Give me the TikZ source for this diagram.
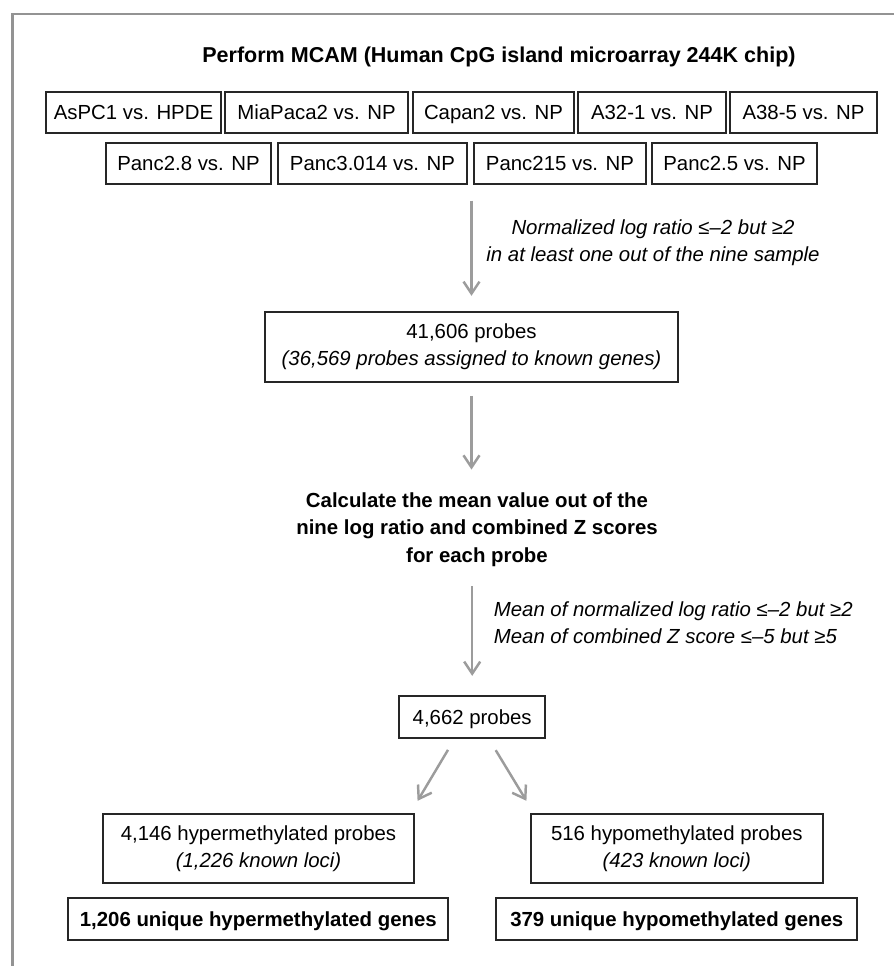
\documentclass[tikz,border=0pt]{standalone}
\usepackage{fontspec}
\setmainfont{Liberation Sans}
\usetikzlibrary{arrows.meta}

\begin{document}
\fontsize{11.6pt}{15.6pt}\selectfont
\begin{tikzpicture}[
    box/.style={draw=black!85, line width=1pt, inner sep=0pt, align=center},
    pair/.style={box, minimum height=0.82cm, text height=8.4pt, text depth=0pt},
    flow/.style={draw=gray!78, line width=1.4pt, -{Straight Barb[length=2.4mm,width=3.2mm]}}
]
    \useasboundingbox (0,0) rectangle (17.88,19.32);
    % Frame
    \draw[gray!85, line width=1.4pt] (0.254,0) -- (0.254,19.04) -- (17.88,19.04);

    % Arrays
    \node[anchor=base, font=\fontsize{12.25pt}{15.6pt}\selectfont\bfseries] (title) at (9.98,18.074) {Perform MCAM (Human CpG island microarray 244K chip)};
    \node[pair, minimum width=3.5cm] (pa) at (2.67,17.076) {AsPC1 vs. HPDE};
    \node[pair, minimum width=3.66cm] (pb) at (6.33,17.076) {MiaPaca2 vs. NP};
    \node[pair, minimum width=3.22cm] (pc) at (9.87,17.076) {Capan2 vs. NP};
    \node[pair, minimum width=2.96cm] (pd) at (13.04,17.076) {A32-1 vs. NP};
    \node[pair, minimum width=2.94cm] (pe) at (16.07,17.076) {A38-5 vs. NP};
    \node[pair, minimum width=3.3cm] (qa) at (3.77,16.056) {Panc2.8 vs. NP};
    \node[pair, minimum width=3.78cm] (qb) at (7.45,16.056) {Panc3.014 vs. NP};
    \node[pair, minimum width=3.44cm] (qc) at (11.2,16.056) {Panc215 vs. NP};
    \node[pair, minimum width=3.3cm] (qd) at (14.69,16.056) {Panc2.5 vs. NP};

    % First filter
    \node[align=center, font=\itshape] (crit) at (13.06,14.468) {Normalized log ratio ≤–2 but ≥2\\in at least one out of the nine sample};
    \node[box, minimum width=8.26cm, minimum height=1.4cm] (probes) at (9.43,12.386) {41,606 probes\\\textit{(36,569 probes assigned to known genes)}};
    \draw[flow, shorten <=0.32cm, shorten >=0.3cm] (probes.north |- qb.south) -- (probes.north);

    % Mean values
    \node[align=center, font=\bfseries] (calc) at (9.54,8.728) {Calculate the mean value out of the\\nine log ratio and combined Z scores\\for each probe};
    \draw[flow, shorten <=0.266cm, shorten >=0.32cm] (probes.south) -- (probes.south |- calc.north);
    \node[anchor=west, align=left, font=\itshape] (mean) at (9.734,6.866) {Mean of normalized log ratio ≤–2 but ≥2\\Mean of combined Z score ≤–5 but ≥5};
    \node[pair, minimum width=2.914cm, minimum height=0.84cm] (sel) at (9.444,4.986) {4,662 probes};
    \draw[flow, shorten <=0.254cm, shorten >=0.38cm] (sel.north |- calc.south) -- (sel.north);

    % Split
    \node[box, minimum width=6.232cm, minimum height=1.38cm] (hyper) at (5.17,2.35) {4,146 hypermethylated probes\\\textit{(1,226 known loci)}};
    \node[box, minimum width=5.846cm, minimum height=1.38cm] (hypo) at (13.537,2.35) {516 hypomethylated probes\\\textit{(423 known loci)}};
    \draw[flow] ([xshift=-0.484cm, yshift=-0.226cm]sel.south) -- ([xshift=0.048cm, yshift=0.246cm]hyper.north east);
    \draw[flow] ([xshift=0.47cm, yshift=-0.232cm]sel.south) -- ([xshift=-0.068cm, yshift=0.246cm]hypo.north west);
    \node[pair, minimum width=7.6cm, minimum height=0.84cm, font=\bfseries] (genup) at (5.166,0.94) {1,206 unique hypermethylated genes};
    \node[pair, minimum width=7.22cm, minimum height=0.84cm, font=\bfseries] (gendown) at (13.536,0.94) {379 unique hypomethylated genes};
\end{tikzpicture}
\end{document}
